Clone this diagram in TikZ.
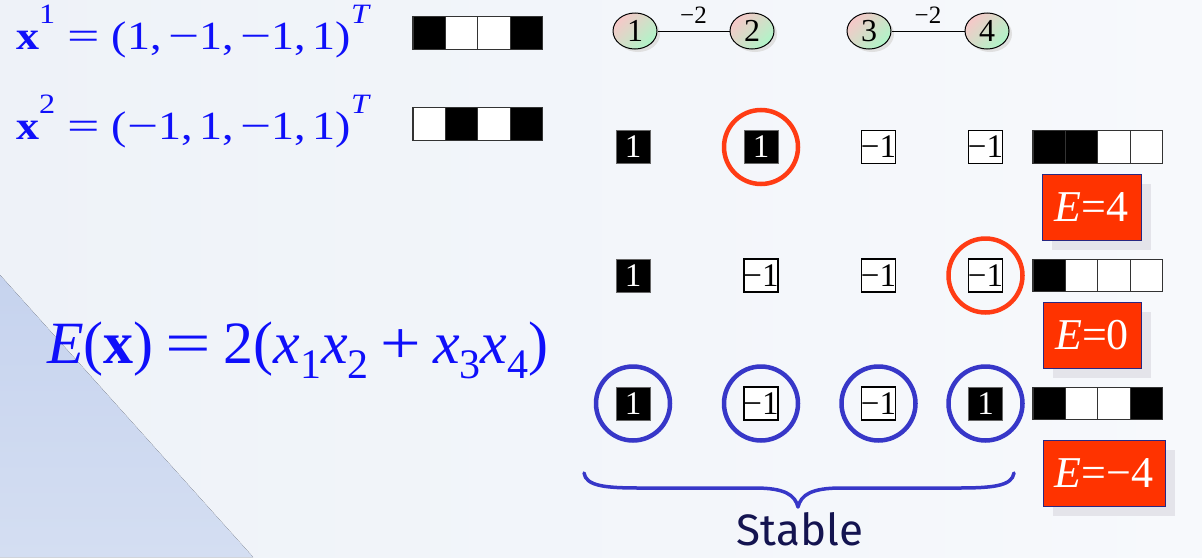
\documentclass[tikz,border=0pt]{standalone}
\usepackage{fontspec}
\setmainfont{Liberation Serif}
\newfontfamily\widefam{Liberation Serif}[FakeStretch=1.15]
\newfontfamily\stablefont{Fira Sans}
\usetikzlibrary{shapes.geometric,shadows}
\definecolor{fblue}{RGB}{15,15,250}
\definecolor{ringred}{RGB}{255,60,20}
\definecolor{ringblue}{RGB}{55,55,200}
\definecolor{eboxred}{RGB}{255,51,0}
\definecolor{eboxline}{RGB}{40,40,130}
\definecolor{navy}{RGB}{20,20,80}
\definecolor{bgA}{RGB}{238,242,248}
\definecolor{bgB}{RGB}{247,249,252}
\definecolor{wedge}{RGB}{212,222,242}
\definecolor{wedgeB}{RGB}{198,211,238}
\definecolor{shadowgrey}{RGB}{228,228,234}
\definecolor{gpink}{RGB}{246,200,200}
\definecolor{ggreen}{RGB}{175,245,200}
\newcommand\fsz[1]{\fontsize{#1}{#1}\selectfont}
\newcommand\wminus{\scalebox{1.2}[1]{−}}
\newcommand\weq{\scalebox{1.25}[1]{=}}
\newcommand\drawbar[4]{%
  \foreach \c [count=\i] in {#4} {
    \node[bcell, fill=\c] (#1-\i) at ({#2+(\i-0.5)*32.4}, #3) {};
  }}
\begin{document}
\begin{tikzpicture}[x=1pt,y=-1pt,
  gnode/.style={ellipse, draw=black, line width=1pt, minimum width=44pt, minimum height=36pt, inner sep=0pt,
    top color=gpink, bottom color=ggreen, shading angle=45, font=\fsz{32},
    drop shadow={shadow xshift=3pt, shadow yshift=-3pt, fill=black!12, opacity=1}},
  elabel/.style={font=\fsz{25}, inner sep=0pt},
  onesq/.style={rectangle, fill=black, draw=black!60, line width=0.6pt, minimum width=34pt, minimum height=33pt,
    inner sep=0pt, text=white, font=\fsz{33}},
  msq/.style={rectangle, fill=white, draw=black, line width=1.2pt, minimum width=34pt, minimum height=33pt,
    inner sep=0pt, text=black, font=\fsz{33}},
  bcell/.style={rectangle, minimum width=32.4pt, minimum height=32.5pt, draw=black!80, line width=1.2pt, inner sep=0pt},
  redring/.style={circle, draw=ringred, line width=4.5pt, minimum size=74pt, inner sep=0pt},
  bluering/.style={circle, draw=ringblue, line width=4.5pt, minimum size=74pt, inner sep=0pt},
  ebox/.style={rectangle, fill=eboxred, draw=eboxline, line width=1pt, minimum height=66pt, inner sep=0pt,
    text=white, font=\fsz{44},
    drop shadow={shadow xshift=10pt, shadow yshift=-10pt, fill=shadowgrey, opacity=1}},
  formula/.style={text=fblue, inner sep=0pt, anchor=base west}
]
% background
\fill[left color=bgA, right color=bgB] (0,0) rectangle (1202,557);
\fill[top color=wedgeB, bottom color=wedge] (0,275) -- (253,557) -- (0,557) -- cycle;
\useasboundingbox (0,0) rectangle (1202,557);

% formulas
\node[formula, font=\widefam\fsz{40}] (f1) at (16,49)
  {{\bfseries x}\raisebox{26pt}{\fsz{28}1}\hspace{0.3em}\weq\hspace{0.3em}(1,\,\wminus1,\,\wminus1,\,1)\raisebox{26pt}{\fsz{28}\itshape T}};
\node[formula, font=\widefam\fsz{40}] (f2) at (16,139)
  {{\bfseries x}\raisebox{26pt}{\fsz{28}2}\hspace{0.3em}\weq\hspace{0.3em}(\wminus1,\,1,\,\wminus1,\,1)\raisebox{26pt}{\fsz{28}\itshape T}};
\node[formula, font=\fsz{60}] (fe) at (47,363)
  {{\itshape E}({\bfseries x})\hspace{0.2em}\scalebox{1.35}[1]{=}\hspace{0.2em}2({\itshape x}\lower15pt\hbox{\fsz{42}1}{\itshape x}\lower15pt\hbox{\fsz{42}2}\hspace{0.2em}\scalebox{1.2}[1]{+}\hspace{0.2em}{\itshape x}\lower15pt\hbox{\fsz{42}3}{\itshape x}\lower15pt\hbox{\fsz{42}4})};

% pattern bars
\drawbar{ba}{413}{33}{black,white,white,black}
\drawbar{bb}{413}{124}{white,black,white,black}
\drawbar{br1}{1033}{147}{black,black,white,white}
\drawbar{br2}{1033}{275.5}{black,white,white,white}
\drawbar{br3}{1033}{403.5}{black,white,white,black}

% graph
\node[gnode] (n1) at (635,31) {1};
\node[gnode] (n2) at (752,31) {2};
\node[gnode] (n3) at (869,31) {3};
\node[gnode] (n4) at (987,31) {4};
\draw[line width=1pt] (n1) -- node[elabel, above=7pt] {−2} (n2);
\draw[line width=1pt] (n3) -- node[elabel, above=7pt] {−2} (n4);

% state rows
\node[onesq] (s11) at (633,147) {1};
\node[onesq] (s12) at (761,147) {1};
\node[msq] (s13) at (878.5,147) {\makebox[0pt]{−1}};
\node[msq] (s14) at (985.5,147) {\makebox[0pt]{−1}};
\node[onesq] (s21) at (633,275.5) {1};
\node[msq] (s22) at (761,275.5) {\makebox[0pt]{−1}};
\node[msq] (s23) at (878.5,275.5) {\makebox[0pt]{−1}};
\node[msq] (s24) at (985.5,275.5) {\makebox[0pt]{−1}};
\node[onesq] (s31) at (633,403.5) {1};
\node[msq] (s32) at (761,403.5) {\makebox[0pt]{−1}};
\node[msq] (s33) at (878.5,403.5) {\makebox[0pt]{−1}};
\node[onesq] (s34) at (985.5,403.5) {1};

% rings
\node[redring] (r12) at (s12.center) {};
\node[redring] (r24) at (s24.center) {};
\node[bluering] (r31) at (s31.center) {};
\node[bluering] (r32) at (s32.center) {};
\node[bluering] (r33) at (s33.center) {};
\node[bluering] (r34) at (s34.center) {};

% energy boxes
\node[ebox, minimum width=99pt] (e1) at (1091.5,207) {\textit{E}=4};
\node[ebox, minimum width=98pt] (e2) at (1092,335) {\textit{E}=0};
\node[ebox, minimum width=122pt] (e3) at (1104,473) {\textit{E}=−4};

% brace
\coordinate (bl) at (584,473);
\coordinate (br) at (1014,473);
\coordinate (bt) at (798,507);
\draw[ringblue, line width=3.5pt, line cap=round, line join=round]
  (bl) .. controls (586,486) and (605,488) .. (640,488) -- (755,488)
  .. controls (785,488) and (795,495) .. (bt)
  .. controls (801,495) and (811,488) .. (841,488) -- (958,488)
  .. controls (993,488) and (1012,486) .. (br);
\node[text=navy, font=\stablefont\fsz{44}, inner sep=0pt] (st) at (800,529) {Stable};
\end{tikzpicture}
\end{document}
